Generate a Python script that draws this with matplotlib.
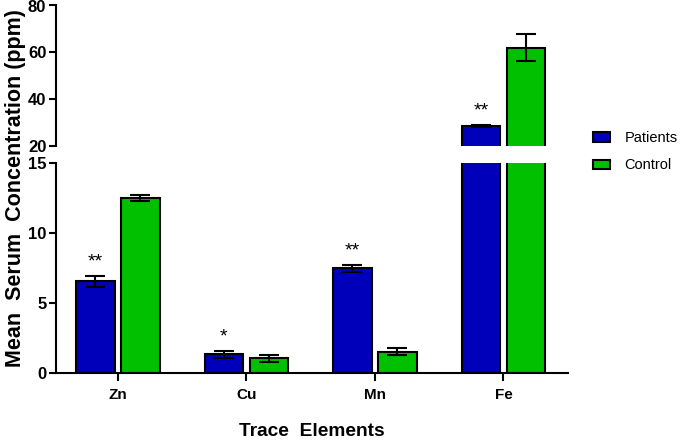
import numpy as np
import matplotlib
matplotlib.use('Agg')
import matplotlib.pyplot as plt
from matplotlib.patches import Patch

plt.rcParams['font.family'] = ['Liberation Sans', 'DejaVu Sans']

elements = ['Zn', 'Cu', 'Mn', 'Fe']
patients = [6.55, 1.35, 7.48, 28.6]
patients_err = [0.4, 0.25, 0.25, 0.6]
control = [12.5, 1.05, 1.52, 62.0]
control_err = [0.2, 0.25, 0.25, 5.7]
stars = ['**', '*', '**', '**']

BLUE = '#0000BB'
GREEN = '#00C000'

fig = plt.figure(figsize=(6.85, 4.4), dpi=100)
ax_top = fig.add_axes([0.0818, 0.668, 0.747, 0.3195])
ax_bot = fig.add_axes([0.0818, 0.152, 0.747, 0.4775])

x = np.arange(len(elements))
w = 0.30
off = 0.175

for ax in (ax_top, ax_bot):
    ax.bar(x - off, patients, w, color=BLUE, edgecolor='black', linewidth=1.5,
           yerr=patients_err, capsize=7, error_kw=dict(elinewidth=1.5, capthick=1.5))
    ax.bar(x + off, control, w, color=GREEN, edgecolor='black', linewidth=1.5,
           yerr=control_err, capsize=7, error_kw=dict(elinewidth=1.5, capthick=1.5))
    ax.set_xlim(-0.48, 3.5)
    for s in ('top', 'right'):
        ax.spines[s].set_visible(False)
    ax.spines['left'].set_linewidth(1.5)
    ax.spines['bottom'].set_linewidth(1.5)
    ax.tick_params(axis='y', width=1.5, length=5, labelsize=12, pad=2)

ax_top.set_ylim(20, 80)
ax_top.set_yticks([20, 40, 60, 80])
ax_top.spines['bottom'].set_visible(False)
ax_top.set_xticks([])
ax_bot.set_ylim(0, 15)
ax_bot.set_yticks([0, 5, 10, 15])
ax_bot.set_xticks(x)
ax_bot.set_xticklabels(elements, fontweight='bold', fontsize=11)
ax_bot.tick_params(axis='x', width=1.5, length=6, pad=5)
for ax in (ax_top, ax_bot):
    for lab in ax.get_yticklabels():
        lab.set_fontweight('bold')

for i, s in enumerate(stars):
    top = patients[i] + patients_err[i]
    ax = ax_top if top > 15 else ax_bot
    ax.annotate(s, (x[i] - off, top), xytext=(0, 4), textcoords='offset points',
                ha='center', va='bottom', fontsize=14)

fig.text(0.022, 0.573, 'Mean  Serum  Concentration (ppm)', rotation=90,
         ha='center', va='center', fontsize=15.5, fontweight='bold')
fig.text(0.455, 0.02, 'Trace  Elements', ha='center', va='center',
         fontsize=13.8, fontweight='bold')

handles = [Patch(facecolor=BLUE, edgecolor='black', linewidth=1.5, label='Patients'),
           Patch(facecolor=GREEN, edgecolor='black', linewidth=1.5, label='Control')]
fig.legend(handles=handles, loc='center left', bbox_to_anchor=(0.866, 0.655),
           frameon=False, fontsize=10.5, handlelength=1.15, handleheight=0.6,
           handletextpad=1.0, labelspacing=0.9, borderpad=0, borderaxespad=0)

fig.savefig('out.png', dpi=100)
